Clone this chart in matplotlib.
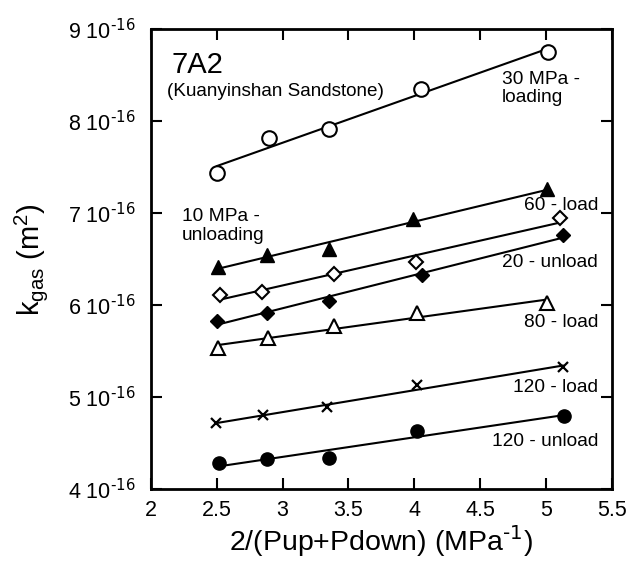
import numpy as np
import matplotlib
matplotlib.use("Agg")
import matplotlib.pyplot as plt
from matplotlib.ticker import FuncFormatter

plt.rcParams['font.family'] = ['Liberation Sans', 'DejaVu Sans']
plt.rcParams['mathtext.default'] = 'regular'
plt.rcParams['axes.unicode_minus'] = False

# data, k_gas in units of 1e-16 m^2
x_30load = [2.505, 2.90, 3.35, 4.05, 5.017]
k_30load = [7.435, 7.816, 7.914, 8.349, 8.759]

x_10unload = [2.513, 2.88, 3.35, 3.99, 5.01]
k_10unload = [6.419, 6.546, 6.608, 6.938, 7.261]

x_60load = [2.526, 2.842, 3.39, 4.01, 5.106]
k_60load = [6.111, 6.147, 6.336, 6.473, 6.945]

x_20unload = [2.50, 2.88, 3.353, 4.056, 5.13]
k_20unload = [5.832, 5.918, 6.049, 6.329, 6.764]

x_80load = [2.513, 2.892, 3.39, 4.023, 5.005]
k_80load = [5.531, 5.64, 5.774, 5.918, 6.021]

x_120load = [2.495, 2.85, 3.34, 4.018, 5.126]
k_120load = [4.715, 4.805, 4.889, 5.132, 5.324]

x_120unload = [2.52, 2.88, 3.349, 4.018, 5.136]
k_120unload = [4.286, 4.323, 4.334, 4.634, 4.798]

series = [
    (x_30load, k_30load, dict(marker='o', mfc='white', ms=10.5, mew=1.5)),
    (x_10unload, k_10unload, dict(marker='^', mfc='black', ms=10.5, mew=1)),
    (x_60load, k_60load, dict(marker='D', mfc='white', ms=7.5, mew=1.5)),
    (x_20unload, k_20unload, dict(marker='D', mfc='black', ms=7.5, mew=1)),
    (x_80load, k_80load, dict(marker='^', mfc='white', ms=10.5, mew=1.5)),
    (x_120load, k_120load, dict(marker='x', mfc='black', ms=7.5, mew=1.6)),
    (x_120unload, k_120unload, dict(marker='o', mfc='black', ms=9.5, mew=1)),
]

fig = plt.figure(figsize=(6.28, 5.61), dpi=100)
ax = fig.add_axes([0.240, 0.128, 0.7345, 0.8195])

for xs, ks, st in series:
    xs = np.array(xs)
    ks = np.array(ks)
    m, b = np.polyfit(xs, ks, 1)
    xl = np.array([xs.min(), xs.max()])
    ax.plot(xl, m * xl + b, color='black', lw=1.5, zorder=2)
    ax.plot(xs, ks, linestyle='none', color='black', mec='black', zorder=3, **st)

ax.set_xlim(2, 5.5)
ax.set_ylim(4, 9)
ax.set_xticks(np.arange(2, 5.51, 0.5))
ax.set_yticks(np.arange(4, 9.1, 1))
ax.xaxis.set_major_formatter(FuncFormatter(lambda v, p: f'{v:g}'))
ax.yaxis.set_major_formatter(FuncFormatter(lambda v, p: f'{v:.0f} 10$^{{\\text{{-16}}}}$'))
ax.tick_params(direction='in', length=8, width=1.5, top=True, right=True,
               labelsize=15.5)
ax.tick_params(axis='x', pad=8)
ax.tick_params(axis='y', pad=11)
for sp in ax.spines.values():
    sp.set_linewidth(2)

ax.set_xlabel('2/(Pup+Pdown) (MPa$^{\\text{-1}}$)', fontsize=20.5, labelpad=2)
ax.set_ylabel('k$_{gas}$ (m$^2$)', fontsize=21, labelpad=13)

ax.text(2.16, 8.614, '7A2', fontsize=21, va='center', ha='left')
ax.text(2.12, 8.33, '(Kuanyinshan Sandstone)', fontsize=13.6, va='center', ha='left')
ax.text(4.665, 8.358, '30 MPa -\nloading', fontsize=13.8, va='center', ha='left', linespacing=1.15)
ax.text(2.235, 6.862, '10 MPa -\nunloading', fontsize=13.8, va='center', ha='left', linespacing=1.15)
ax.text(5.394, 7.08, '60 - load', fontsize=13.8, va='center', ha='right')
ax.text(5.394, 6.47, '20 - unload', fontsize=13.8, va='center', ha='right')
ax.text(5.394, 5.817, '80 - load', fontsize=13.8, va='center', ha='right')
ax.text(5.394, 5.11, '120 - load', fontsize=13.8, va='center', ha='right')
ax.text(5.394, 4.515, '120 - unload', fontsize=13.8, va='center', ha='right')

fig.savefig('out.png', dpi=100)
